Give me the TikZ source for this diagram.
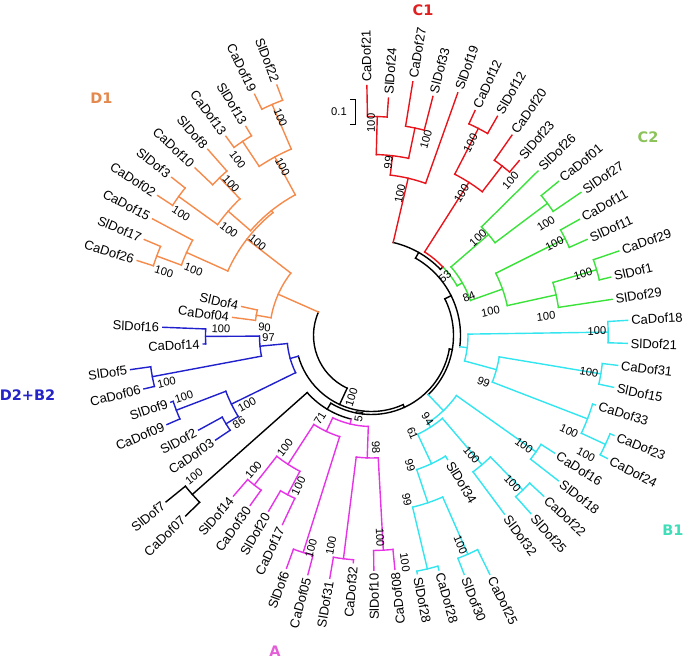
\documentclass[tikz,border=0pt]{standalone}
\usepackage{fontspec}
\setmainfont{Liberation Sans}
\newfontfamily\cladefont{DejaVu Sans}
\definecolor{cD1}{HTML}{F58A4B}
\definecolor{cC1}{HTML}{E8141B}
\definecolor{cC2}{HTML}{3AE23A}
\definecolor{cB1}{HTML}{33E5EE}
\definecolor{cA}{HTML}{E633E6}
\definecolor{cD2}{HTML}{2020CC}
\definecolor{tD1}{HTML}{E3894F}
\definecolor{tC1}{HTML}{E02020}
\definecolor{tC2}{HTML}{8CC25A}
\definecolor{tB1}{HTML}{3FDDB8}
\definecolor{tA}{HTML}{E35FD8}
\definecolor{tD2}{HTML}{2424C8}
\tikzset{
  leaf/.style={font={\fontsize{13}{14}\selectfont}, text=black, inner sep=0pt},
  bs/.style={font={\fontsize{11.2}{12}\selectfont}, text=black, inner sep=0pt},
  clade/.style={font={\cladefont\bfseries\fontsize{14.5}{16}\selectfont}, inner sep=0pt},
  tree/.style={line width=1.4pt, line cap=rect}
}
% leaf: angle, base radius, tip radius, name
\newcommand\LF[4]{%
  \draw (#1:#2) -- (#1:#3);
  \pgfmathsetmacro\lfr{#3+3}%
  \pgfmathtruncatemacro\lff{(#1<278)&&(#1>90)}%
  \ifnum\lff=1
    \pgfmathsetmacro\lfa{#1-180}%
    \node[leaf,anchor=east,rotate=\lfa] (#4) at (#1:\lfr) {#4};
  \else
    \node[leaf,anchor=west,rotate=#1] (#4) at (#1:\lfr) {#4};
  \fi}
% arc: from angle, to angle, radius
\newcommand\ARC[3]{\draw (#1:#3) arc[start angle=#1,end angle=#2,radius=#3];}
% branch: angle, inner radius, outer radius
\newcommand\BR[3]{\draw (#1:#2) -- (#1:#3);}
% bootstrap: name, x, y(image), rotation, text
\newcommand\BS[5]{\node[bs,rotate=#4] (#1) at (#2,{661-#3}) {#5};}
\begin{document}
\begin{tikzpicture}[x=1pt,y=1pt]
\useasboundingbox (0,0) rectangle (685,661);
\begin{scope}[shift={(371.5,325.5)}, tree]
% ---------- black backbone
\ARC{156.15}{245.19}{58}
\BR{245.19}{58}{76}
\ARC{195.79}{294.58}{76}
\BR{294.58}{76}{79}
\ARC{238.99}{350.17}{79}
\BR{238.99}{79}{86}
\ARC{221.58}{256.39}{86}
\BR{350.17}{79}{82}
\ARC{313.76}{386.57}{82}
\BR{386.57}{82}{89}
\ARC{352.76}{420.37}{89}
\BR{420.37}{89}{95.5}
\ARC{403.85}{436.88}{95.5}
\BR{403.85}{95.5}{99}
% black pair
\BR{221.58}{86}{239.5}
\ARC{219.00}{224.15}{239.5}
\LF{219.00}{239.5}{264.3}{SlDof7}
\LF{224.15}{239.5}{259}{CaDof07}
% ---------- D1
\begin{scope}[cD1]
\BR{156.15}{58}{102}
\ARC{142.29}{170.00}{102}
\BR{170.00}{102}{117}
\ARC{167.43}{172.58}{117}
\BR{142.29}{102}{157.5}
\ARC{128.75}{155.83}{157.5}
\BR{128.75}{157.5}{160}
\ARC{118.44}{139.07}{160}
\BR{155.83}{157.5}{202.7}
\ARC{151.96}{159.69}{202.7}
\BR{159.69}{202.7}{229}
\ARC{157.11}{162.27}{229}
\BR{118.44}{160}{203}
\ARC{113.28}{123.59}{203}
\BR{113.28}{203}{251.5}
\ARC{110.70}{115.86}{251.5}
\BR{123.59}{203}{233}
\ARC{121.01}{126.17}{233}
\BR{139.07}{160}{189.7}
\ARC{133.91}{144.22}{189.7}
\BR{133.91}{189.7}{219}
\ARC{131.33}{136.49}{219}
\BR{144.22}{189.7}{237.7}
\ARC{141.64}{146.80}{237.7}
\LF{110.70}{251.5}{267.7}{SlDof22}
\LF{115.86}{251.5}{268.1}{CaDof19}
\LF{121.01}{233}{243.9}{SlDof13}
\LF{126.17}{233}{246.7}{CaDof13}
\LF{131.33}{219}{247.9}{SlDof8}
\LF{136.49}{219}{243.3}{CaDof10}
\LF{141.64}{237.7}{254.8}{SlDof3}
\LF{146.80}{237.7}{255.6}{CaDof02}
\LF{151.96}{202.7}{248.1}{CaDof15}
\LF{157.11}{229}{246.6}{SlDof17}
\LF{162.27}{229}{246}{CaDof26}
\LF{167.43}{117}{133}{SlDof4}
\LF{172.58}{117}{140}{CaDof04}
\end{scope}
% ---------- D2+B2
\begin{scope}[cD2]
\BR{195.79}{76}{84.5}
\ARC{185.48}{206.10}{84.5}
\BR{185.48}{84.5}{112}
\ARC{180.32}{190.64}{112}
\BR{180.32}{112}{166}
\ARC{177.74}{182.90}{166}
\BR{190.64}{112}{223}
\ARC{188.06}{193.21}{223}
\BR{206.10}{84.5}{156}
\ARC{200.95}{211.26}{156}
\BR{200.95}{156}{209}
\ARC{198.37}{203.53}{209}
\BR{211.26}{156}{170.2}
\ARC{208.68}{213.84}{170.2}
\LF{177.74}{166}{208.9}{SlDof16}
\LF{182.90}{166}{168.5}{CaDof14}
\LF{188.06}{223}{243.3}{SlDof5}
\LF{193.21}{223}{233.8}{CaDof06}
\LF{198.37}{209}{211.5}{SlDof9}
\LF{203.53}{209}{223.1}{CaDof09}
\LF{208.68}{170.2}{197}{SlDof2}
\LF{213.84}{170.2}{187.7}{CaDof03}
\end{scope}
% ---------- A
\begin{scope}[cA]
\BR{256.39}{86}{91}
\ARC{244.78}{267.99}{91}
\BR{244.78}{91}{106}
\ARC{237.05}{252.52}{106}
\BR{237.05}{106}{153.5}
\ARC{231.89}{242.20}{153.5}
\BR{231.89}{153.5}{190}
\ARC{229.31}{234.47}{190}
\BR{242.20}{153.5}{180}
\ARC{239.63}{244.78}{180}
\BR{252.52}{106}{227.5}
\ARC{249.94}{255.10}{227.5}
\BR{267.99}{91}{122.5}
\ARC{262.83}{273.15}{122.5}
\BR{262.83}{122.5}{225}
\ARC{260.25}{265.41}{225}
\BR{273.15}{122.5}{215}
\ARC{270.57}{275.72}{215}
\LF{229.31}{190}{211.7}{SlDof14}
\LF{234.47}{190}{208.7}{CaDof30}
\LF{239.63}{180}{203.5}{SlDof20}
\LF{244.78}{180}{209}{CaDof17}
\LF{249.94}{227.5}{247.8}{SlDof6}
\LF{255.10}{227.5}{247.5}{CaDof05}
\LF{260.25}{225}{246.3}{SlDof31}
\LF{265.41}{225}{228}{CaDof32}
\LF{270.57}{215}{234.6}{SlDof10}
\LF{275.72}{215}{235}{CaDof08}
\end{scope}
% ---------- B1
\begin{scope}[cB1]
\BR{313.76}{82}{104}
\ARC{302.81}{324.72}{104}
\BR{302.81}{104}{109}
\ARC{295.07}{310.54}{109}
\BR{295.07}{109}{141.5}
\ARC{288.62}{301.51}{141.5}
\BR{288.62}{141.5}{176.5}
\ARC{283.46}{293.78}{176.5}
\BR{283.46}{176.5}{240}
\ARC{280.88}{286.04}{240}
\BR{293.78}{176.5}{239}
\ARC{291.20}{296.35}{239}
\BR{310.54}{109}{170}
\ARC{306.67}{314.40}{170}
\BR{314.40}{170}{216.3}
\ARC{311.82}{316.98}{216.3}
\BR{324.72}{104}{201.5}
\ARC{322.14}{327.29}{201.5}
\BR{352.76}{89}{96.5}
\ARC{344.70}{360.815}{96.5}
\BR{344.70}{96.5}{129.5}
\ARC{338.90}{350.50}{129.5}
\BR{338.90}{129.5}{231.5}
\ARC{335.03}{342.77}{231.5}
\BR{335.03}{231.5}{258}
\ARC{332.45}{337.61}{258}
\BR{350.50}{129.5}{232.5}
\ARC{347.92}{353.08}{232.5}
\BR{360.815}{96.5}{236.7}
\ARC{358.24}{363.39}{236.7}
\LF{280.88}{240}{242.6}{SlDof28}
\LF{286.04}{240}{244}{CaDof28}
\LF{291.20}{239}{256.2}{SlDof30}
\LF{296.35}{239}{266.5}{CaDof25}
\LF{301.51}{141.5}{145.5}{SlDof34}
\LF{306.67}{170}{222.6}{SlDof32}
\LF{311.82}{216.3}{239}{SlDof25}
\LF{316.98}{216.3}{235.5}{CaDof22}
\LF{322.14}{201.5}{236.7}{SlDof18}
\LF{327.29}{201.5}{217.6}{CaDof16}
\LF{332.45}{258}{266}{CaDof24}
\LF{337.61}{258}{262.2}{CaDof23}
\LF{342.77}{231.5}{234.5}{CaDof33}
\LF{347.92}{232.5}{247.6}{SlDof15}
\LF{353.08}{232.5}{247.9}{CaDof31}
\LF{358.24}{236.7}{255.8}{SlDof21}
\LF{363.39}{236.7}{256.6}{CaDof18}
\end{scope}
% ---------- C2
\begin{scope}[cC2]
\ARC{390.15}{403.85}{99}
\BR{390.15}{99}{105}
\ARC{379.51}{400.79}{105}
\BR{379.51}{105}{139}
\ARC{372.42}{386.60}{139}
\BR{372.42}{139}{189}
\ARC{368.55}{376.29}{189}
\BR{376.29}{189}{234.5}
\ARC{373.71}{378.86}{234.5}
\BR{386.60}{139}{216.5}
\ARC{384.02}{389.18}{216.5}
\BR{400.79}{105}{154.5}
\ARC{396.92}{404.65}{154.5}
\BR{396.92}{154.5}{220}
\ARC{394.34}{399.49}{220}
\LF{368.55}{189}{243.3}{SlDof29}
\LF{373.71}{234.5}{246.2}{SlDof1}
\LF{378.86}{234.5}{261.3}{CaDof29}
\LF{384.02}{216.5}{236}{SlDof11}
\LF{389.18}{216.5}{238.2}{CaDof11}
\LF{394.34}{220}{253.6}{SlDof27}
\LF{399.49}{220}{242.2}{CaDof01}
\LF{404.65}{154.5}{234}{SlDof26}
\end{scope}
% ---------- C1
\begin{scope}[cC1]
\ARC{403.85}{417.54}{99}
\BR{417.54}{99}{181.5}
\ARC{412.39}{422.70}{181.5}
\BR{412.39}{181.5}{214}
\ARC{409.81}{414.96}{214}
\BR{422.70}{181.5}{233}
\ARC{420.12}{425.28}{233}
\BR{436.88}{95.5}{161.5}
\ARC{430.43}{443.33}{161.5}
\BR{443.33}{161.5}{181}
\ARC{438.17}{448.49}{181}
\BR{438.17}{181}{212}
\ARC{435.59}{440.75}{212}
\BR{448.49}{181}{219}
\ARC{445.91}{451.06}{219}
\LF{409.81}{214}{228.9}{SlDof23}
\LF{414.96}{214}{244.6}{CaDof20}
\LF{420.12}{233}{252.8}{SlDof12}
\LF{425.28}{233}{247.6}{CaDof12}
\LF{430.43}{161.5}{257.5}{SlDof19}
\LF{435.59}{212}{246.8}{SlDof33}
\LF{440.75}{212}{257}{CaDof27}
\LF{445.91}{219}{238.1}{SlDof24}
\LF{451.06}{219}{250}{CaDof21}
\end{scope}
\end{scope}
% ---------- bootstrap values
\BS{b01}{280.5}{117.5}{-67.3}{100}
\BS{b02}{237.5}{160}{-52.6}{100}
\BS{b03}{282.5}{166.5}{-62.2}{100}
\BS{b04}{231}{184}{-47.2}{100}
\BS{b05}{181}{213.5}{-32.6}{100}
\BS{b06}{229}{230}{-36.5}{100}
\BS{b07}{257.5}{242.5}{-39.2}{100}
\BS{b08}{164}{271.5}{-17.1}{100}
\BS{b09}{193.5}{269.5}{-20.3}{100}
\BS{b10}{264.5}{327.5}{-4.3}{90}
\BS{b11}{268.5}{337.5}{1.1}{97}
\BS{b12}{221}{329}{-2.5}{100}
\BS{b13}{166.5}{382.5}{12.9}{100}
\BS{b14}{184}{397}{18.2}{100}
\BS{b15}{247}{405}{29.2}{100}
\BS{b16}{239}{422.5}{33.3}{86}
\BS{b17}{194}{476.5}{38.5}{100}
\BS{b18}{253.5}{470}{48.7}{100}
\BS{b19}{285}{448}{52.4}{100}
\BS{b20}{298.5}{486}{64.1}{100}
\BS{b21}{320}{418.5}{58.2}{71}
\BS{b22}{311}{548.5}{74.1}{100}
\BS{b23}{331}{546}{79.1}{100}
\BS{b24}{359}{416}{81.2}{51}
\BS{b25}{351.5}{397.5}{72.1}{100}
\BS{b26}{376}{447.5}{-87.7}{98}
\BS{b27}{380}{537.5}{-87.6}{100}
\BS{b28}{405}{562.5}{-81.6}{100}
\BS{b29}{407}{500}{-77.8}{99}
\BS{b30}{410}{465.5}{-73.5}{99}
\BS{b31}{412.5}{433.5}{-67.3}{61}
\BS{b32}{427.5}{419}{-56.2}{94}
\BS{b33}{460.5}{545}{-67}{100}
\BS{b34}{471.5}{455}{-50.1}{100}
\BS{b35}{512.5}{483.5}{-46.4}{100}
\BS{b36}{524}{445.5}{-35.8}{100}
\BS{b37}{483.5}{382}{-22.5}{99}
\BS{b38}{569}{431}{-25.8}{100}
\BS{b39}{586}{455}{-29.1}{100}
\BS{b40}{589}{372}{-9.5}{100}
\BS{b41}{597}{331}{1.1}{100}
\BS{b42}{371}{123}{90}{100}
\BS{b43}{426}{139}{74.5}{100}
\BS{b44}{388.5}{162.5}{84.4}{99}
\BS{b45}{400}{194}{78.6}{100}
\BS{b46}{470.5}{143}{62.8}{100}
\BS{b47}{461.5}{193.5}{57.6}{100}
\BS{b48}{510.5}{180.5}{48.1}{100}
\BS{b49}{546}{223.5}{32.7}{100}
\BS{b50}{478}{238}{42.5}{100}
\BS{b51}{554.5}{243.5}{26.7}{100}
\BS{b52}{583}{274}{16.2}{100}
\BS{b53}{445}{276.5}{38.8}{53}
\BS{b54}{469}{297}{21.5}{84}
\BS{b55}{490.5}{311.5}{11.4}{100}
\BS{b56}{546}{316.5}{6.2}{100}
% ---------- scale bar
\coordinate (sbA) at (350,562);
\coordinate (sbB) at (355.5,562);
\coordinate (sbC) at (355.5,537);
\coordinate (sbD) at (350,537);
\draw[line width=0.8pt] (sbA) -- (sbB) -- (sbC) -- (sbD);
\node[bs,anchor=east] (scl) at (347,549.5) {0.1};
% ---------- clade labels
\node[clade,text=tC1] (lC1) at (423,651) {C1};
\node[clade,text=tC2] (lC2) at (648,524) {C2};
\node[clade,text=tD1] (lD1) at (101.5,562.5) {D1};
\node[clade,text=tD2] (lD2) at (27.5,266) {D2+B2};
\node[clade,text=tA] (lA) at (275,9.5) {A};
\node[clade,text=tB1] (lB1) at (673,131) {B1};
\end{tikzpicture}
\end{document}
